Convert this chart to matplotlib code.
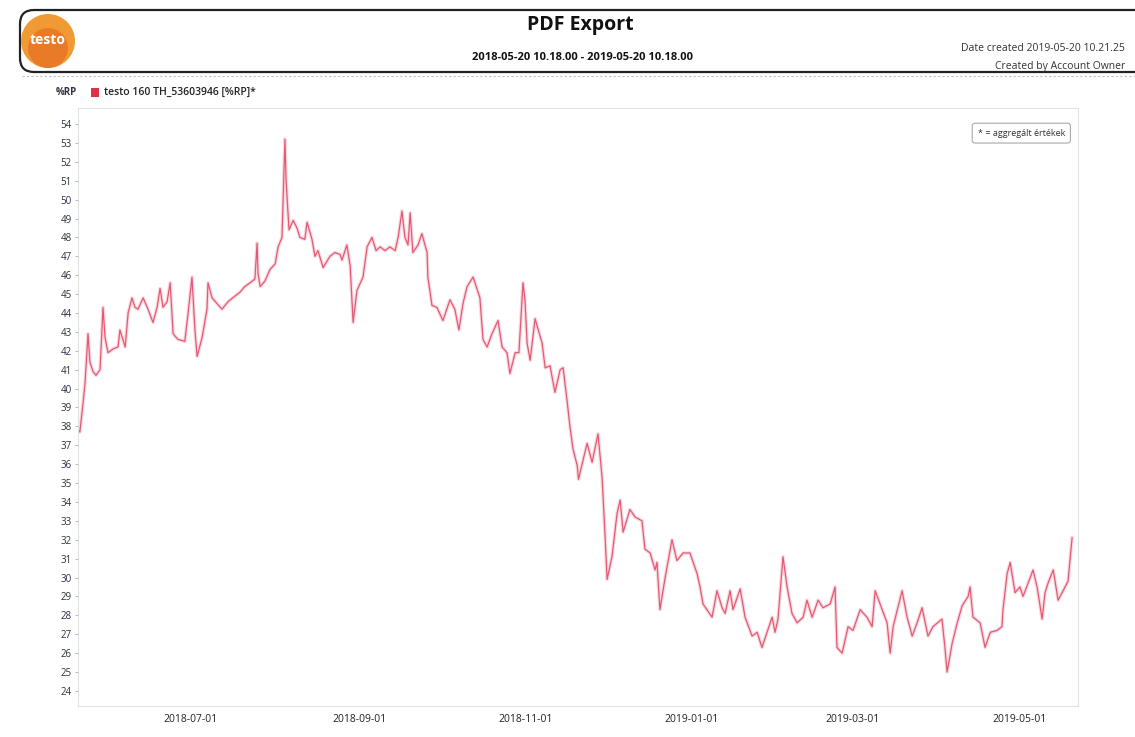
import numpy as np
import pandas as pd
import matplotlib
matplotlib.use("Agg")
import matplotlib.pyplot as plt
import matplotlib.dates as mdates
from matplotlib.patches import FancyBboxPatch, Circle, Rectangle

plt.rcParams['font.family'] = ['Open Sans', 'DejaVu Sans']

# header texts
title = "PDF Export"
period = "2018-05-20 10.18.00 - 2019-05-20 10.18.00"
created = "Date created 2019-05-20 10.21.25"
owner = "Created by Account Owner"
unit = "%RP"
series_name = "testo 160 TH_53603946 [%RP]*"
note = "* = aggregált értékek"

# humidity readings
times = [
    "2018-05-20 10:00", "2018-05-21 14:00", "2018-05-22 18:00", "2018-05-23 12:00", "2018-05-24 14:00",
    "2018-05-25 07:00", "2018-05-26 10:00", "2018-05-27 12:00", "2018-05-29 00:00", "2018-05-30 02:00",
    "2018-05-30 20:00", "2018-05-31 22:00", "2018-06-02 19:00", "2018-06-04 14:00", "2018-06-05 07:00",
    "2018-06-07 05:00", "2018-06-08 07:00", "2018-06-09 17:00", "2018-06-10 19:00", "2018-06-11 22:00",
    "2018-06-13 19:00", "2018-06-15 14:00", "2018-06-17 10:00", "2018-06-18 22:00", "2018-06-20 00:00",
    "2018-06-21 02:00", "2018-06-22 14:00", "2018-06-23 17:00", "2018-06-24 19:00", "2018-06-26 14:00",
    "2018-06-29 02:00", "2018-06-30 07:00", "2018-07-01 17:00", "2018-07-02 19:00", "2018-07-03 14:00",
    "2018-07-05 10:00", "2018-07-07 05:00", "2018-07-07 14:00", "2018-07-09 02:00", "2018-07-10 22:00",
    "2018-07-12 17:00", "2018-07-14 22:00", "2018-07-17 12:00", "2018-07-19 07:00", "2018-07-21 02:00",
    "2018-07-23 00:00", "2018-07-24 19:00", "2018-07-25 14:00", "2018-07-25 22:00", "2018-07-26 17:00",
    "2018-07-28 12:00", "2018-07-30 07:00", "2018-08-01 05:00", "2018-08-02 07:00", "2018-08-03 17:00",
    "2018-08-04 19:00", "2018-08-05 05:00", "2018-08-06 07:00", "2018-08-07 19:00", "2018-08-09 05:00",
    "2018-08-10 07:00", "2018-08-12 02:00", "2018-08-12 22:00", "2018-08-14 17:00", "2018-08-15 19:00",
    "2018-08-16 22:00", "2018-08-18 19:00", "2018-08-21 07:00", "2018-08-23 02:00", "2018-08-25 00:00",
    "2018-08-25 17:00", "2018-08-27 12:00", "2018-08-28 17:00", "2018-08-29 10:00", "2018-08-29 19:00",
    "2018-08-31 05:00", "2018-09-02 10:00", "2018-09-03 22:00", "2018-09-05 17:00", "2018-09-07 05:00",
    "2018-09-08 17:00", "2018-09-10 12:00", "2018-09-12 07:00", "2018-09-14 05:00", "2018-09-15 07:00",
    "2018-09-16 17:00", "2018-09-17 19:00", "2018-09-18 22:00", "2018-09-19 17:00", "2018-09-20 17:00",
    "2018-09-22 14:00", "2018-09-24 00:00", "2018-09-25 22:00", "2018-09-26 05:00", "2018-09-27 17:00",
    "2018-09-29 12:00", "2018-10-01 17:00", "2018-10-04 07:00", "2018-10-06 02:00", "2018-10-07 14:00",
    "2018-10-09 02:00", "2018-10-10 14:00", "2018-10-12 19:00", "2018-10-15 07:00", "2018-10-16 10:00",
    "2018-10-17 22:00", "2018-10-19 17:00", "2018-10-21 22:00", "2018-10-23 10:00", "2018-10-25 05:00",
    "2018-10-26 07:00", "2018-10-28 05:00", "2018-10-29 14:00", "2018-10-31 02:00", "2018-10-31 19:00",
    "2018-11-01 14:00", "2018-11-02 17:00", "2018-11-04 12:00", "2018-11-07 02:00", "2018-11-08 05:00",
    "2018-11-10 00:00", "2018-11-11 19:00", "2018-11-13 17:00", "2018-11-14 19:00", "2018-11-16 05:00",
    "2018-11-17 07:00", "2018-11-18 10:00", "2018-11-20 00:00", "2018-11-20 10:00", "2018-11-23 14:00",
    "2018-11-25 10:00", "2018-11-27 14:00", "2018-11-29 02:00", "2018-11-30 05:00", "2018-11-30 22:00",
    "2018-12-02 17:00", "2018-12-04 14:00", "2018-12-05 17:00", "2018-12-06 19:00", "2018-12-09 07:00",
    "2018-12-11 05:00", "2018-12-13 17:00", "2018-12-14 19:00", "2018-12-16 17:00", "2018-12-18 12:00",
    "2018-12-19 05:00", "2018-12-20 07:00", "2018-12-22 05:00", "2018-12-24 17:00", "2018-12-26 12:00",
    "2018-12-28 19:00", "2018-12-31 07:00", "2019-01-02 22:00", "2019-01-04 00:00", "2019-01-05 02:00",
    "2019-01-08 10:00", "2019-01-10 05:00", "2019-01-12 02:00", "2019-01-13 05:00", "2019-01-15 00:00",
    "2019-01-16 02:00", "2019-01-18 17:00", "2019-01-20 12:00", "2019-01-23 02:00", "2019-01-24 22:00",
    "2019-01-26 17:00", "2019-01-28 14:00", "2019-01-30 10:00", "2019-01-31 12:00", "2019-02-01 14:00",
    "2019-02-03 10:00", "2019-02-04 22:00", "2019-02-06 17:00", "2019-02-08 14:00", "2019-02-10 19:00",
    "2019-02-12 05:00", "2019-02-14 02:00", "2019-02-16 07:00", "2019-02-18 02:00", "2019-02-20 17:00",
    "2019-02-22 12:00", "2019-02-23 05:00", "2019-02-25 02:00", "2019-02-27 07:00", "2019-03-01 02:00",
    "2019-03-03 17:00", "2019-03-06 05:00", "2019-03-08 02:00", "2019-03-09 05:00", "2019-03-11 00:00",
    "2019-03-13 14:00", "2019-03-14 17:00", "2019-03-15 19:00", "2019-03-19 02:00", "2019-03-20 22:00",
    "2019-03-22 19:00", "2019-03-24 14:00", "2019-03-26 10:00", "2019-03-28 14:00", "2019-03-30 10:00",
    "2019-04-02 17:00", "2019-04-03 19:00", "2019-04-04 14:00", "2019-04-06 10:00", "2019-04-08 07:00",
    "2019-04-10 02:00", "2019-04-12 07:00", "2019-04-13 00:00", "2019-04-14 02:00", "2019-04-16 17:00",
    "2019-04-18 12:00", "2019-04-20 10:00", "2019-04-22 22:00", "2019-04-24 17:00", "2019-04-25 02:00",
    "2019-04-26 14:00", "2019-04-27 17:00", "2019-04-29 12:00", "2019-05-01 07:00", "2019-05-02 10:00",
    "2019-05-04 07:00", "2019-05-06 02:00", "2019-05-07 14:00", "2019-05-09 10:00", "2019-05-10 12:00",
    "2019-05-11 14:00", "2019-05-13 12:00", "2019-05-15 07:00", "2019-05-17 02:00", "2019-05-18 22:00",
    "2019-05-20 02:00", "2019-05-20 10:00",
]
rh = [
    37.9, 37.7, 39.2, 40.3, 42.9, 41.4, 40.9, 40.7, 41.0, 44.3,
    42.7, 41.9, 42.1, 42.2, 43.1, 42.2, 44.0, 44.8, 44.3, 44.2,
    44.8, 44.2, 43.5, 44.3, 45.3, 44.3, 44.6, 45.6, 42.9, 42.6,
    42.5, 44.0, 45.9, 43.1, 41.7, 42.7, 44.2, 45.6, 44.8, 44.5,
    44.2, 44.6, 44.9, 45.1, 45.4, 45.6, 45.8, 47.7, 46.1, 45.4,
    45.7, 46.3, 46.6, 47.5, 48.0, 53.2, 51.0, 48.4, 48.9, 48.5,
    48.0, 47.9, 48.8, 47.9, 47.0, 47.3, 46.4, 47.0, 47.2, 47.1,
    46.8, 47.6, 46.5, 44.5, 43.5, 45.2, 45.9, 47.5, 48.0, 47.3,
    47.5, 47.3, 47.5, 47.3, 48.0, 49.4, 48.0, 47.6, 49.3, 47.2,
    47.6, 48.2, 47.2, 45.9, 44.4, 44.3, 43.6, 44.7, 44.2, 43.1,
    44.5, 45.4, 45.9, 44.8, 42.6, 42.2, 42.9, 43.6, 42.2, 41.9,
    40.8, 41.9, 41.9, 45.6, 44.7, 42.4, 41.5, 43.7, 42.4, 41.1,
    41.2, 39.8, 41.0, 41.1, 39.4, 38.0, 36.8, 35.9, 35.2, 37.1,
    36.1, 37.6, 35.3, 32.1, 29.9, 31.1, 33.4, 34.1, 32.4, 33.6,
    33.2, 33.0, 31.5, 31.3, 30.4, 30.8, 28.3, 30.0, 32.0, 30.9,
    31.3, 31.3, 30.2, 29.5, 28.6, 27.9, 29.3, 28.4, 28.1, 29.3,
    28.3, 29.4, 27.9, 26.9, 27.1, 26.3, 27.1, 27.9, 27.1, 27.8,
    31.1, 29.5, 28.1, 27.6, 27.9, 28.8, 27.9, 28.8, 28.4, 28.6,
    29.5, 26.3, 26.0, 27.4, 27.2, 28.3, 27.9, 27.4, 29.3, 28.6,
    27.6, 26.0, 27.4, 29.3, 27.9, 26.9, 27.6, 28.4, 26.9, 27.4,
    27.8, 26.3, 25.0, 26.5, 27.6, 28.5, 29.0, 29.5, 27.9, 27.6,
    26.3, 27.1, 27.2, 27.4, 28.3, 30.2, 30.8, 29.2, 29.5, 29.0,
    29.7, 30.4, 29.5, 27.8, 29.2, 29.7, 30.4, 28.8, 29.3, 29.8,
    31.6, 32.1,
]

x_ticks = ["2018-07-01", "2018-09-01", "2018-11-01", "2019-01-01", "2019-03-01", "2019-05-01"]
y_ticks = list(range(24, 55))

t = pd.to_datetime(times)

W, H = 1135, 737
fig = plt.figure(figsize=(W / 100, H / 100), dpi=100)
fig.patch.set_facecolor("white")

# page layer in pixel coordinates (header, logo, legend line)
bg = fig.add_axes([0, 0, 1, 1])
bg.set_xlim(0, W)
bg.set_ylim(H, 0)
bg.axis("off")

bg.add_patch(FancyBboxPatch((20, 10), 1160, 62, boxstyle="round,pad=0,rounding_size=14",
                            fc="white", ec="#222222", lw=1.6))
bg.add_patch(Circle((48, 41), 27, fc="#f09a34", ec="none"))
bg.add_patch(Circle((48, 48), 20, fc="#e5621f", ec="none", alpha=0.55))
bg.text(48, 40, "testo", color="white", fontsize=10, fontweight="bold", ha="center", va="center")
bg.text(580, 25, title, fontsize=14, fontweight="bold", ha="center", va="center", color="#111111")
bg.text(582, 57, period, fontsize=8, fontweight="bold", ha="center", va="center", color="#111111")
bg.text(1125, 48, created, fontsize=7.5, ha="right", va="center", color="#333333")
bg.text(1125, 66, owner, fontsize=7.5, ha="right", va="center", color="#333333")
bg.plot([22, 1135], [76, 76], color="#9aa4b0", lw=0.8, ls=(0, (2, 2)), alpha=0.7)

bg.text(56, 92, unit, fontsize=7, fontweight="bold", ha="left", va="center", color="#333344")
bg.add_patch(Rectangle((91, 88), 8, 9, fc="#e03048", ec="none"))
bg.text(104, 92, series_name, fontsize=7.5, fontweight="semibold", ha="left", va="center",
        color="#222222")

# chart
ax = fig.add_axes([78 / W, 1 - 706 / H, 1000 / W, 598 / H])
ax.plot(t, rh, color="#f5b5c3", lw=2.6, alpha=0.5, solid_joinstyle="round")
ax.plot(t, rh, color="#e03a58", lw=0.9, alpha=0.8)

ax.set_xlim(pd.Timestamp("2018-05-20 22:00"), pd.Timestamp("2019-05-22 14:00"))
ax.set_ylim(23.2, 54.85)
ax.set_yticks(y_ticks)
ax.set_yticklabels([str(v) for v in y_ticks])
ax.set_xticks(pd.to_datetime(x_ticks))
ax.xaxis.set_major_formatter(mdates.DateFormatter("%Y-%m-%d"))
ax.tick_params(axis="y", labelsize=7, length=2.5, width=0.6, color="#aaaaaa",
               labelcolor="#2b3142", pad=2)
ax.tick_params(axis="x", labelsize=7.5, length=0, labelcolor="#222222", pad=6)
for s in ax.spines.values():
    s.set_color("#e2e2e2")
    s.set_linewidth(0.8)

ax.text(0.987, 0.958, note, transform=ax.transAxes, fontsize=6.5, ha="right", va="center",
        color="#333333",
        bbox=dict(boxstyle="round,pad=0.6,rounding_size=0.3", fc="white", ec="#aaaaaa", lw=0.8))

fig.savefig("out.png", dpi=100)
